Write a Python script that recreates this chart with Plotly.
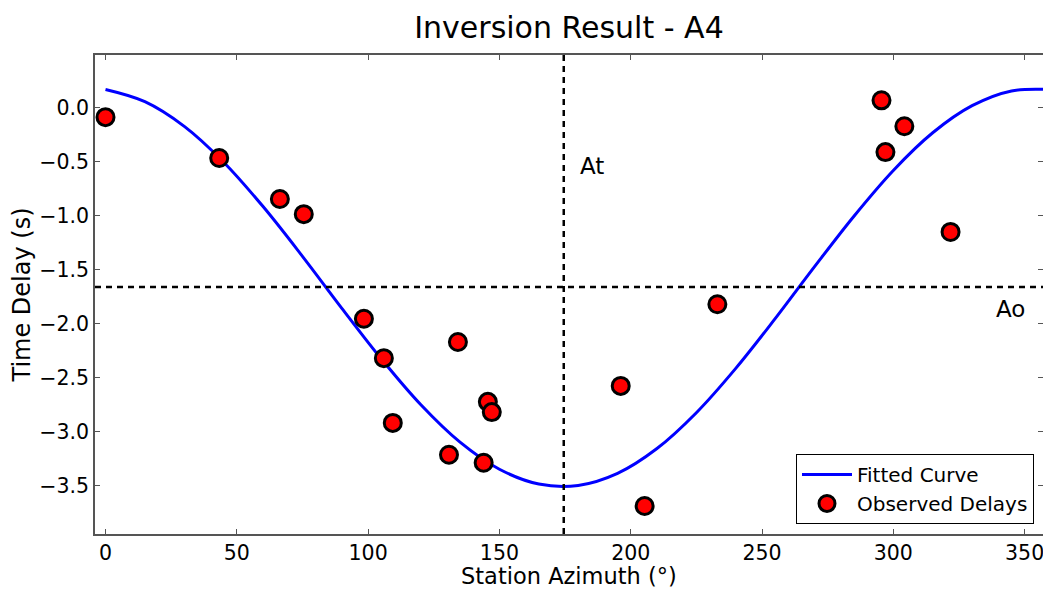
import plotly.graph_objects as go

# Fitted curve (at 15 degree steps)
curve_az = [0, 15, 30, 45, 60, 75, 90, 105, 120, 135, 150, 165, 180,
            195, 210, 225, 240, 255, 270, 285, 300, 315, 330, 345, 360]
curve_delay = [0.17, 0.057, -0.172, -0.504, -0.915, -1.376, -1.858, -2.326,
               -2.750, -3.099, -3.350, -3.487, -3.500, -3.388, -3.158, -2.826,
               -2.415, -1.954, -1.472, -1.004, -0.580, -0.231, 0.020, 0.157, 0.170]

# Observed delays
obs_az = [0, 43.3, 66.4, 75.5, 98.4, 106, 109.4, 130.8, 134.2, 144, 145.6,
          147.1, 196.2, 205.3, 233, 295.5, 304.2, 297, 321.8]
obs_delay = [-0.086, -0.465, -0.845, -0.985, -1.955, -2.32, -2.92, -3.215,
             -2.17, -3.29, -2.725, -2.82, -2.577, -3.69, -1.82, 0.07, -0.17,
             -0.41, -1.15]

ao_level = -1.66
at_azimuth = 174.5

x_ticks = [0, 50, 100, 150, 200, 250, 300, 350]
y_ticks = [0.0, -0.5, -1.0, -1.5, -2.0, -2.5, -3.0, -3.5]

font = "DejaVu Sans"

fig = go.Figure()
fig.add_trace(go.Scatter(x=curve_az, y=curve_delay, mode="lines",
                         line=dict(color="#0000ff", width=3, shape="spline"),
                         name="Fitted Curve"))
fig.add_trace(go.Scatter(x=obs_az, y=obs_delay, mode="markers",
                         marker=dict(color="#ff0000", size=17,
                                     line=dict(color="black", width=3)),
                         name="Observed Delays"))

fig.add_shape(type="line", xref="x", yref="paper", x0=at_azimuth, x1=at_azimuth,
              y0=0, y1=1, line=dict(color="black", width=2.5, dash="6px,5px"))
fig.add_shape(type="line", xref="paper", yref="y", x0=0, x1=1,
              y0=ao_level, y1=ao_level,
              line=dict(color="black", width=2.5, dash="6px,5px"))

fig.add_annotation(x=180, y=-0.54, text="At", showarrow=False, xanchor="left",
                   yanchor="middle", font=dict(size=23, color="black", family=font))
fig.add_annotation(x=338.5, y=-1.865, text="Ao", showarrow=False, xanchor="left",
                   yanchor="middle", font=dict(size=23, color="black", family=font))
# x-axis title, placed just below the tick labels
fig.add_annotation(x=0.5, y=-0.058, xref="paper", yref="paper",
                   text="Station Azimuth (°)", showarrow=False,
                   xanchor="center", yanchor="top", borderpad=0,
                   font=dict(size=22.5, color="black", family=font))

axis_common = dict(showgrid=False, zeroline=False, showline=True, linecolor="#555555",
                   linewidth=1.5, mirror="ticks", ticks="inside", ticklen=5,
                   tickcolor="#555555", tickwidth=1, automargin=False,
                   tickfont=dict(size=20.5, color="black", family=font))

# page body has an 8px margin, so the figure is shifted by (8, 8)
fig.update_layout(
    width=1043, height=582,
    paper_bgcolor="white", plot_bgcolor="white",
    margin=dict(l=87, r=8, t=47, b=56),
    title=dict(text="Inversion Result - A4", x=0.5, xanchor="center",
               xref="paper", y=0.967, yanchor="middle",
               font=dict(size=30, color="black", family=font)),
    xaxis=dict(range=[-4, 357], tickvals=x_ticks, **axis_common),
    yaxis=dict(range=[-3.95, 0.49], tickvals=y_ticks, tickformat=".1f",
               title=dict(text="Time Delay (s)", standoff=6,
                          font=dict(size=24, color="black", family=font)),
               **axis_common),
    legend=dict(x=0.9905, y=0.021, xanchor="right", yanchor="bottom",
                bgcolor="white", bordercolor="black", borderwidth=1,
                itemwidth=50,
                font=dict(size=20, color="black", family=font)),
    font=dict(family=font),
)

fig.write_html("out.html")
